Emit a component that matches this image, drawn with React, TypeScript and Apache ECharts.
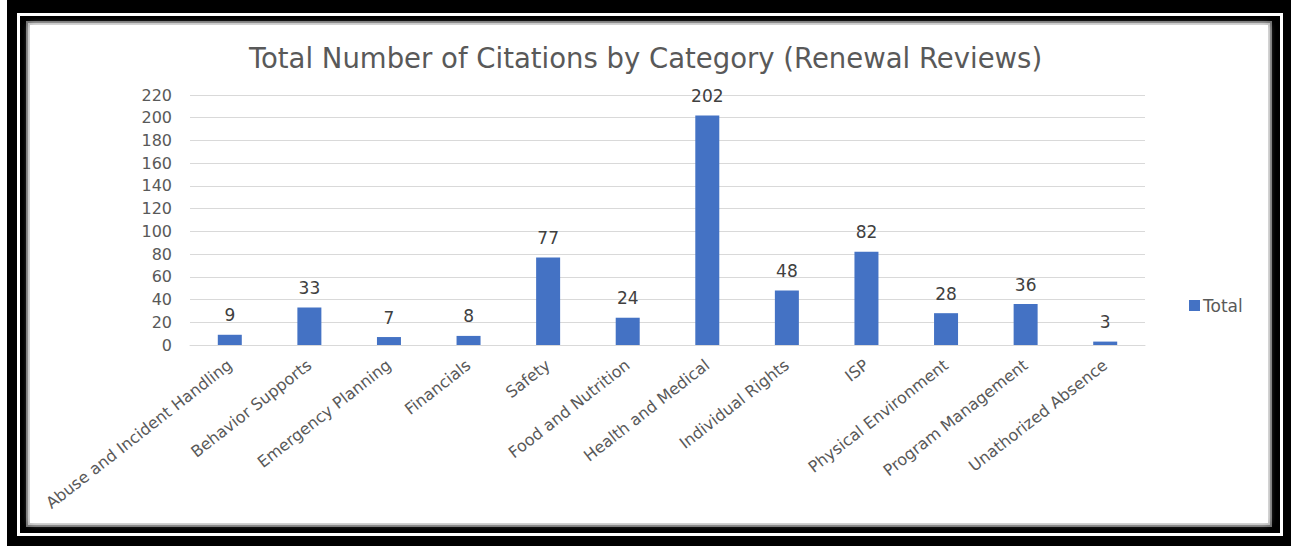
import React, { useEffect, useRef } from "react";
import * as echarts from "echarts";

const categories = [
  "Abuse and Incident Handling",
  "Behavior Supports",
  "Emergency Planning",
  "Financials",
  "Safety",
  "Food and Nutrition",
  "Health and Medical",
  "Individual Rights",
  "ISP",
  "Physical Environment",
  "Program Management",
  "Unathorized Absence",
];
const totals = [9, 33, 7, 8, 77, 24, 202, 48, 82, 28, 36, 3];
const seriesName = "Total";
const titleText = "Total Number of Citations by Category (Renewal Reviews)";

export default function App() {
  const ref = useRef<HTMLDivElement>(null);
  useEffect(() => {
    if (!ref.current) return;
    const chart = echarts.init(ref.current, undefined, { renderer: "svg" });
    const font = "'DejaVu Sans', sans-serif";
    chart.setOption({
      animation: false,
      backgroundColor: "#ffffff",
      textStyle: { fontFamily: font },
      title: {
        text: titleText,
        left: "center",
        top: 39,
        textStyle: { fontSize: 27.5, fontWeight: "normal", color: "#595959", fontFamily: font },
      },
      graphic: [
        { type: "rect", z: -100, silent: true, shape: { x: 7, y: 0, width: 1284, height: 546 }, style: { fill: "#000" } },
        { type: "rect", z: -99, silent: true, shape: { x: 17, y: 13, width: 1266, height: 523 }, style: { fill: "#fff" } },
        { type: "rect", z: -98, silent: true, shape: { x: 20, y: 16, width: 1260, height: 517 }, style: { fill: "#000" } },
        { type: "rect", z: -97, silent: true, shape: { x: 26, y: 21, width: 1246, height: 506 }, style: { fill: "#6e6e6e" } },
        { type: "rect", z: -96, silent: true, shape: { x: 28, y: 23, width: 1242, height: 502 }, style: { fill: "#b4b4b4" } },
        {
          type: "rect",
          z: -95,
          silent: true,
          shape: { x: 30, y: 25, width: 1238, height: 498 },
          style: { fill: "#fff", shadowBlur: 6, shadowColor: "rgba(255,255,255,0.9)" },
        },
      ],
      legend: {
        data: [seriesName],
        left: 1184,
        top: 292,
        icon: "rect",
        itemWidth: 11,
        itemHeight: 11,
        itemGap: 5,
        textStyle: { fontSize: 17, color: "#595959", fontFamily: font, padding: [0, 0, 0, -2] },
      },
      grid: { left: 190, right: 146, top: 95, bottom: 201, containLabel: false },
      xAxis: {
        type: "category",
        data: categories,
        axisLine: { show: true, lineStyle: { color: "#d9d9d9", width: 1 } },
        axisTick: { show: false },
        axisLabel: { interval: 0, rotate: 38, fontSize: 16, color: "#595959", margin: 18, fontFamily: font },
      },
      yAxis: {
        type: "value",
        min: 0,
        max: 220,
        interval: 20,
        axisLine: { show: false },
        axisTick: { show: false },
        splitLine: { lineStyle: { color: "#d9d9d9", width: 1 } },
        axisLabel: { fontSize: 16, color: "#595959", margin: 18, fontFamily: font },
      },
      series: [
        {
          name: seriesName,
          type: "bar",
          data: totals,
          barWidth: 24,
          itemStyle: { color: "#4472C4" },
          label: { show: true, position: "top", fontSize: 17, color: "#404040", distance: 11, fontFamily: font },
        },
      ],
    });
    return () => chart.dispose();
  }, []);
  return (
    <div
      ref={ref}
      style={{ position: "fixed", left: 0, top: 0, width: 1291, height: 546 }}
    />
  );
}
